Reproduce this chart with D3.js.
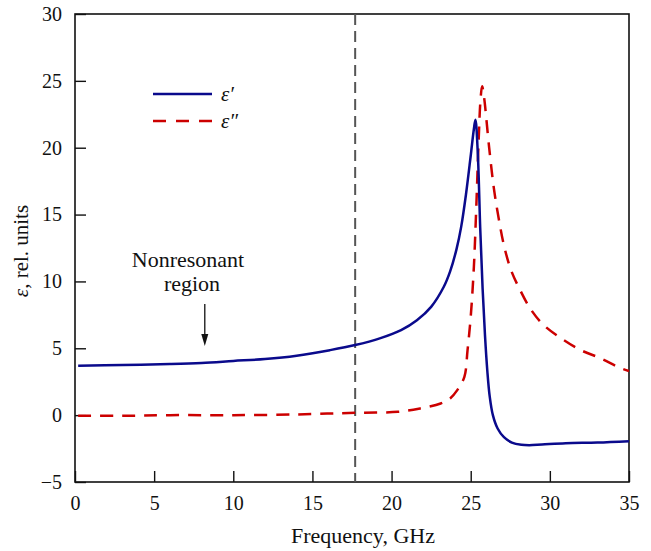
<!DOCTYPE html>
<html><head><meta charset="utf-8">
<script src="https://cdn.jsdelivr.net/npm/d3@7"></script>
<style>body{margin:0;background:#fff}svg{display:block}text{font-family:"Liberation Serif","DejaVu Serif",serif;fill:#111}</style>
</head><body><svg id="c" width="651" height="551"></svg>
<script>
const xTicks = [0,5,10,15,20,25,30,35];
const yTicks = [-5,0,5,10,15,20,25,30];
const epsRealFreq = [0.2,3,6,8,10,12,14,16.1,17.7,19.3,20.6,21.6,22.5,23.3,23.7,24.1,24.4,24.7,25.0,25.2,25.3,25.45,25.6,25.75,25.9,26.05,26.2,26.4,26.7,27.1,27.6,28.2,28.7,29.5,31,33,35];
const epsRealVal  = [3.7,3.75,3.82,3.9,4.05,4.2,4.45,4.86,5.24,5.76,6.36,7.1,8.1,9.6,10.75,12.4,14.1,16.5,19.4,21.4,22.1,19.5,14.0,9.5,6.0,3.3,1.4,0.0,-1.0,-1.65,-2.05,-2.22,-2.25,-2.2,-2.1,-2.05,-1.95];
const epsImagFreq = [0.2,3,6,10,14,16.1,17.7,20.4,21.8,23.1,23.7,24.15,24.6,24.8,25.0,25.2,25.35,25.5,25.62,25.72,25.84,26.16,26.47,26.8,27.1,27.53,28.06,28.8,29.6,30.7,31.96,33.2,34.5,35];
const epsImagVal  = [-0.05,-0.05,0,0,0.05,0.12,0.17,0.25,0.5,0.87,1.25,1.87,2.87,4.86,7.35,11.1,15.5,20.5,23.6,24.6,23.8,20.07,16.9,14.5,12.7,10.9,9.5,7.9,6.75,5.76,4.86,4.26,3.5,3.3];
const legendLabels = ["ε′","ε″"];
const markerFreq = 17.7;
const arrowFreq = 8.2;

const svg = d3.select("#c");
const m = {l:75, t:14, r:629, b:482};
const x = d3.scaleLinear().domain([0,35]).range([m.l,m.r]);
const y = d3.scaleLinear().domain([-5,30]).range([m.b,m.t]);

svg.append("rect").attr("x",m.l).attr("y",m.t).attr("width",m.r-m.l).attr("height",m.b-m.t)
  .attr("fill","none").attr("stroke","#111").attr("stroke-width",1.6);

const xa = svg.append("g").attr("transform",`translate(0,${m.b})`)
  .call(d3.axisBottom(x).tickValues(xTicks).tickSizeInner(-11).tickSizeOuter(0).tickPadding(14).tickFormat(d3.format("d")));
xa.select(".domain").remove();
xa.selectAll("line").attr("stroke","#111").attr("stroke-width",1.4);
xa.selectAll("text").attr("font-size",20).style("font-family","Liberation Serif, serif");

const ya = svg.append("g").attr("transform",`translate(${m.l},0)`)
  .call(d3.axisLeft(y).tickValues(yTicks).tickSizeInner(-11).tickSizeOuter(0).tickPadding(13)
  .tickFormat(d => d<0 ? "−"+Math.abs(d) : d));
ya.select(".domain").remove();
ya.selectAll("line").attr("stroke","#111").attr("stroke-width",1.4);
ya.selectAll("text").attr("font-size",20).style("font-family","Liberation Serif, serif");

svg.append("line").attr("x1",x(markerFreq)).attr("x2",x(markerFreq)).attr("y1",m.t).attr("y2",m.b)
  .attr("stroke","#555").attr("stroke-width",2).attr("stroke-dasharray","11,6");

const line = d3.line().x(d=>x(d[0])).y(d=>y(d[1])).curve(d3.curveCatmullRom.alpha(0.5));
const realData = epsRealFreq.map((f,i)=>[f,epsRealVal[i]]);
const imagData = epsImagFreq.map((f,i)=>[f,epsImagVal[i]]);

svg.append("path").datum(imagData).attr("d",line).attr("fill","none")
  .attr("stroke","#cc0000").attr("stroke-width",2.5).attr("stroke-dasharray","13,9");
svg.append("path").datum(realData).attr("d",line).attr("fill","none")
  .attr("stroke","#0a0a8c").attr("stroke-width",2.5);

const lg = svg.append("g");
lg.append("line").attr("x1",153).attr("x2",212).attr("y1",94).attr("y2",94).attr("stroke","#0a0a8c").attr("stroke-width",2.5);
lg.append("line").attr("x1",153).attr("x2",212).attr("y1",121).attr("y2",121).attr("stroke","#cc0000").attr("stroke-width",2.5).attr("stroke-dasharray","13,10");
lg.append("text").attr("x",221).attr("y",101).attr("font-size",21).attr("font-style","italic").text(legendLabels[0]);
lg.append("text").attr("x",221).attr("y",128).attr("font-size",21).attr("font-style","italic").text(legendLabels[1]);

svg.append("text").attr("x",188).attr("y",267).attr("text-anchor","middle").attr("font-size",22).text("Nonresonant");
svg.append("text").attr("x",192).attr("y",291).attr("text-anchor","middle").attr("font-size",22).text("region");
const ax = x(arrowFreq);
svg.append("line").attr("x1",ax).attr("x2",ax).attr("y1",304).attr("y2",340).attr("stroke","#111").attr("stroke-width",1.3);
svg.append("path").attr("d",`M${ax-3.5},334 L${ax+3.5},334 L${ax},346 Z`).attr("fill","#111");

svg.append("text").attr("x",363).attr("y",543).attr("text-anchor","middle").attr("font-size",22).text("Frequency, GHz");
svg.append("text").attr("transform",`translate(28,${(m.t+m.b)/2+3}) rotate(-90)`).attr("text-anchor","middle").attr("font-size",21)
  .html('<tspan font-style="italic">ε</tspan>, rel. units');
</script></body></html>
